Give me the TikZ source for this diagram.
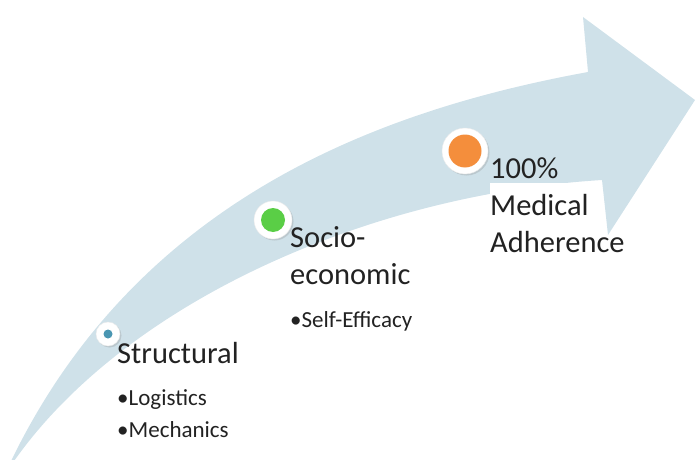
\documentclass[tikz,border=0pt]{standalone}
\usepackage{fontspec}
\setmainfont{Carlito}
\usetikzlibrary{shadows}
\definecolor{bandblue}{RGB}{207,225,233}
\definecolor{dotteal}{RGB}{74,150,178}
\definecolor{dotgreen}{RGB}{90,206,70}
\definecolor{dotorange}{RGB}{244,142,60}
\definecolor{inkgrey}{RGB}{34,34,34}
\begin{document}
\begin{tikzpicture}[x=1pt, y=-1pt,
    ring/.style={circle, fill=white, draw=black!8, inner sep=0pt, drop shadow={opacity=0.25, shadow xshift=1.5pt, shadow yshift=-1.5pt}},
    core/.style={circle, inner sep=0pt},
    stage/.style={font=\fontsize{30.5}{37}\selectfont, text=inkgrey, inner sep=0pt, anchor=base west, align=left},
    item/.style={font=\fontsize{23}{32}\selectfont, text=inkgrey, inner sep=0pt, anchor=base west, align=left}]

    \useasboundingbox (0,0) rectangle (696,460);

    % curved arrow
    \begin{scope}
        \clip (0,0) rectangle (696,460);
        \fill[bandblue] (4,476) .. controls (130,200) and (380,110) .. (588,72) -- (583,17) -- (695,100) -- (608,235) -- (602,180) .. controls (360,195) and (110,310) .. cycle;
    \end{scope}

    % stage markers
    \node[ring, minimum size=24] (dot1) at (108,334) {};
    \node[core, fill=dotteal, minimum size=9] at (dot1) {};
    \node[ring, minimum size=38] (dot2) at (273,220) {};
    \node[core, fill=dotgreen, minimum size=24] at (dot2) {};
    \node[ring, minimum size=46] (dot3) at (465,151) {};
    \node[core, fill=dotorange, minimum size=33] at (dot3) {};

    % labels (base = last line)
    \node[stage] (structural) at (117,363) {Structural};
    \node[item] (logistics) at (117,437) {•Logistics\\•Mechanics};
    \node[stage] (socio) at (290,284) {Socio-\\economic};
    \node[item] (selfefficacy) at (290,327) {•Self-Efficacy};
    \fill[white] (490,183) rectangle (598,262);
    \node[stage] (adherence) at (490,252) {100\%\\Medical\\Adherence};

\end{tikzpicture}
\end{document}
